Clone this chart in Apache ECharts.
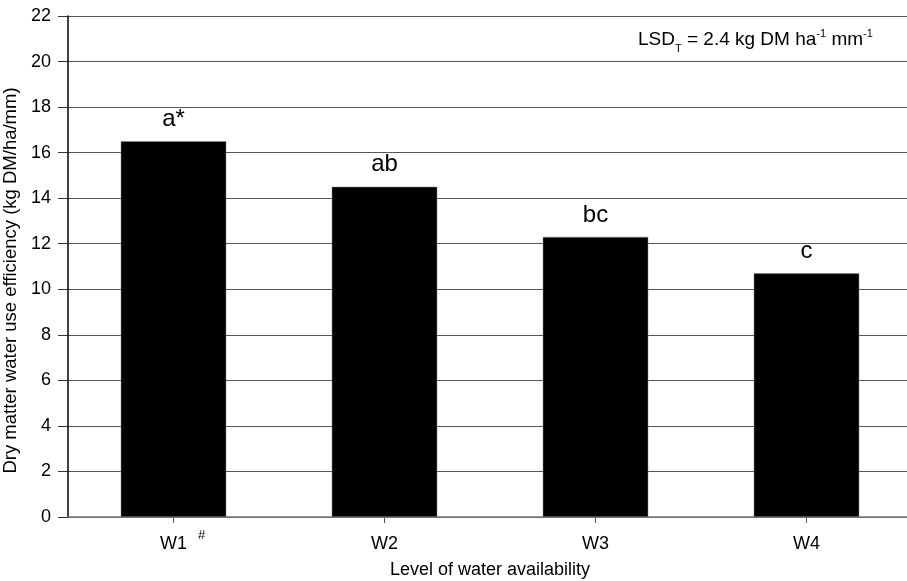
<!DOCTYPE html>
<html><head><meta charset="utf-8">
<script src="https://cdn.jsdelivr.net/npm/echarts@6/dist/echarts.min.js"></script>
<style>html,body{margin:0;padding:0;background:#fff}#c{width:907px;height:581px}</style>
</head><body><div id="c"></div>
<script>
const categories = ['W1', 'W2', 'W3', 'W4'];
const values = [16.5, 14.5, 12.3, 10.7];
const letters = ['a*', 'ab', 'bc', 'c'];
const yTicks = [0, 2, 4, 6, 8, 10, 12, 14, 16, 18, 20, 22];

const chart = echarts.init(document.getElementById('c'));
const font = 'Liberation Sans, Arial, sans-serif';
chart.setOption({
  animation: false,
  backgroundColor: '#fff',
  title: {
    text: 'LSD{sub|T} = 2.4 kg DM ha{sup|-1} mm{sup|-1}',
    left: 633, top: 25,
    textStyle: {
      fontFamily: font, fontSize: 19, fontWeight: 'normal', color: '#000',
      rich: {
        sub: { fontSize: 11, fontFamily: font, color: '#000', verticalAlign: 'bottom', padding: [0, 0, -5, 0] },
        sup: { fontSize: 11, fontFamily: font, color: '#000', verticalAlign: 'top', padding: [-2, 0, 0, 0] }
      }
    }
  },
  grid: { left: 68, right: -5, top: 16, bottom: 64, containLabel: false, outerBoundsMode: 'none' },
  xAxis: {
    type: 'category',
    data: categories,
    name: 'Level of water availability',
    nameLocation: 'middle',
    nameGap: 44,
    nameTextStyle: { fontFamily: font, fontSize: 18, color: '#000' },
    axisLine: { lineStyle: { color: '#777', width: 1.5 } },
    axisTick: { show: true, alignWithLabel: true, length: 6, lineStyle: { color: '#555' } },
    axisLabel: {
      fontFamily: font, fontSize: 18, color: '#000', margin: 18,
      formatter: function (v) { return v === 'W1' ? '{l|#}' + v + '{s|#}' : v; },
      rich: {
        s: { fontSize: 13, fontFamily: font, color: '#000', verticalAlign: 'top', padding: [-6, 0, 0, 11] },
        l: { fontSize: 13, fontFamily: font, color: 'rgba(0,0,0,0)', padding: [0, 11, 0, 0] }
      }
    },
    splitLine: { show: false }
  },
  yAxis: {
    type: 'value',
    min: 0, max: 22, interval: 2,
    name: 'Dry matter water use efficiency (kg DM/ha/mm)',
    nameLocation: 'middle',
    nameGap: 42,
    nameRotate: 90,
    nameTextStyle: { fontFamily: font, fontSize: 18.5, color: '#000', padding: [0, 28, 0, 0] },
    axisLine: { show: true, lineStyle: { color: '#000', width: 1.5 } },
    axisTick: { show: true, length: 10, lineStyle: { color: '#333' } },
    axisLabel: {
      fontFamily: font, fontSize: 18, color: '#000', margin: 17,
      formatter: function (v) { return yTicks.indexOf(v) >= 0 ? String(v) : ''; }
    },
    splitLine: { show: true, lineStyle: { color: '#555', width: 1 } }
  },
  series: [{
    type: 'bar',
    data: values,
    barWidth: '50%',
    itemStyle: { color: '#000', borderColor: '#888', borderWidth: 0.5 },
    label: {
      show: true, position: 'top', distance: 10,
      fontFamily: font, fontSize: 24, color: '#000',
      formatter: function (p) { return letters[p.dataIndex]; }
    }
  }]
});
</script></body></html>
